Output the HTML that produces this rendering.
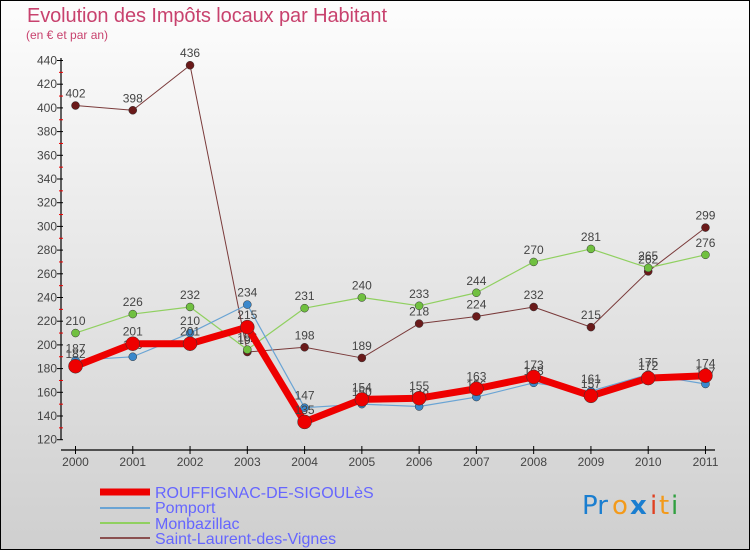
<!DOCTYPE html><html><head><meta charset="utf-8"><style>body{margin:0}svg{display:block}</style></head><body>
<svg width="750" height="550" xmlns="http://www.w3.org/2000/svg" font-family="Liberation Sans, sans-serif">
<defs><linearGradient id="bg" x1="0" y1="0" x2="0" y2="1"><stop offset="0" stop-color="#fdfdfd"/><stop offset="1" stop-color="#cfcfcf"/></linearGradient></defs>
<rect x="0.5" y="0.5" width="749" height="549" fill="url(#bg)" stroke="#000"/>
<text x="27" y="22" font-size="20" fill="#c8426e" textLength="360">Evolution des Impôts locaux par Habitant</text>
<text x="26" y="39" font-size="12" fill="#c8426e">(en € et par an)</text>
<g id="ax" stroke="#000" stroke-width="1.2" fill="none"><line x1="61" y1="58" x2="61" y2="440"/><line x1="61" y1="450" x2="715" y2="450"/></g>
<g id="yt" font-size="12" fill="#444" text-anchor="end"></g>
<g id="xt" font-size="12" fill="#444" text-anchor="middle"></g>
<g id="series"></g>
<g font-size="16">
<line x1="100" y1="492" x2="150" y2="492" stroke="#e00" stroke-width="7"/><text x="155" y="498" fill="#66f">ROUFFIGNAC-DE-SIGOULèS</text>
<line x1="100" y1="508" x2="150" y2="508" stroke="#6aa4d4" stroke-width="2"/><text x="155" y="513" fill="#66f">Pomport</text>
<line x1="100" y1="523" x2="150" y2="523" stroke="#90d060" stroke-width="2"/><text x="155" y="529" fill="#66f">Monbazillac</text>
<line x1="100" y1="538" x2="150" y2="538" stroke="#8a5050" stroke-width="2"/><text x="155" y="544" fill="#66f">Saint-Laurent-des-Vignes</text>
</g>
<g font-size="26" font-family="DejaVu Sans, sans-serif"><text x="582" y="514" fill="#1a7ed0">Pr</text><text x="612" y="514" fill="#f39a1a">o</text><text x="630" y="514" fill="#1a7ed0" font-weight="bold">x</text><text x="650" y="514" fill="#e04020">i</text><text x="659" y="514" fill="#f39a1a">t</text><text x="671" y="514" fill="#30a040">i</text></g>
</svg>
<script>
const NS="http://www.w3.org/2000/svg";
const X=i=>75.5+i*57.27, Y=v=>439.7-(v-120)*1.185;
function el(p,t,a,txt){const e=document.createElementNS(NS,t);for(const k in a)e.setAttribute(k,a[k]);if(txt!==undefined)e.textContent=txt;document.getElementById(p).appendChild(e);return e;}
for(let v=120;v<=440;v+=20){el('yt','line',{x1:57,x2:63,y1:Y(v),y2:Y(v),stroke:'#000'});if(v<440)el('yt','line',{x1:59,x2:63,y1:Y(v+10),y2:Y(v+10),stroke:'#e00'});el('yt','text',{x:57,y:Y(v)+4},v);}
for(let i=0;i<12;i++){el('xt','line',{x1:X(i),x2:X(i),y1:446,y2:454,stroke:'#000'});el('xt','text',{x:X(i),y:466},2000+i);}
const S=[
[[402,398,436,194,198,189,218,224,232,215,262,299],'#7a3a3a','#6a1a1a',1,4],
[[210,226,232,196,231,240,233,244,270,281,265,276],'#90d060','#70c040',1.2,4],
[[187,190,210,234,147,150,148,156,168,161,175,167],'#6aa4d4','#3a88cc',1.2,4],
[[182,201,201,215,135,154,155,163,173,157,172,174],'#ee0000','#ee0000',7,7]];
for(const [d,c,f,w,r] of S){el('series','polyline',{points:d.map((v,i)=>X(i)+','+Y(v)).join(' '),fill:'none',stroke:c,'stroke-width':w,'stroke-linejoin':'round'});
d.forEach((v,i)=>{el('series','circle',{cx:X(i),cy:Y(v),r:r,fill:f,stroke:'#333','stroke-width':0.5});el('series','text',{x:X(i),y:Y(v)-8,'font-size':12,fill:'#444','text-anchor':'middle'},v);});}
</script>
</body></html>
